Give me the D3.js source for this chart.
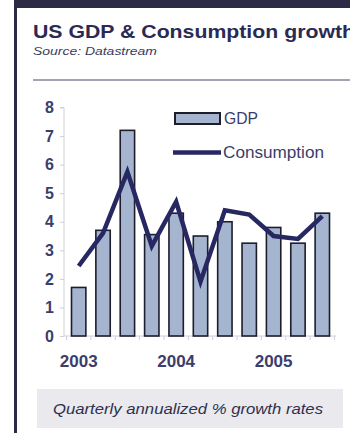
<!DOCTYPE html>
<html><head><meta charset="utf-8">
<script src="https://cdn.jsdelivr.net/npm/d3@7/dist/d3.min.js"></script>
<style>
html,body{margin:0;padding:0;background:#fff;}
svg{display:block;font-family:"Liberation Sans",Arial,sans-serif;}
</style></head>
<body>
<svg id="chart" width="350" height="433"></svg>
<script>
const quarters = ["2003Q1","2003Q2","2003Q3","2003Q4","2004Q1","2004Q2","2004Q3","2004Q4","2005Q1","2005Q2","2005Q3"];
const gdp = [1.7, 3.7, 7.2, 3.55, 4.3, 3.5, 4.0, 3.25, 3.8, 3.25, 4.3];
const consumption = [2.45, 3.6, 5.75, 3.15, 4.7, 1.9, 4.4, 4.25, 3.5, 3.4, 4.2];
const yearLabels = {"2003Q1":"2003","2004Q1":"2004","2005Q1":"2005"};
const yTicks = [0,1,2,3,4,5,6,7,8];
const title = "US GDP & Consumption growth";
const source = "Source: Datastream";
const footer = "Quarterly annualized % growth rates";
const seriesNames = ["GDP","Consumption"];

const svg = d3.select("#chart");
const navy = "#2b2a52", txt = "#3b3d6c", barFill = "#a5b5cf", barStroke = "#1d1d2c", lineCol = "#272762", axisCol = "#cfd0d8";

// frame
svg.append("rect").attr("x",14).attr("y",0).attr("width",336).attr("height",8).attr("fill","#2c2a44");
svg.append("rect").attr("x",14).attr("y",0).attr("width",3).attr("height",433).attr("fill","#2c2a44");

// title
svg.append("text").attr("x",33).attr("y",38).attr("fill",navy).attr("font-size",18).attr("font-weight","bold")
  .attr("textLength",322).attr("lengthAdjust","spacingAndGlyphs").text(title);
svg.append("text").attr("x",33).attr("y",55).attr("fill","#3a3c60").attr("font-size",11).attr("font-style","italic")
  .attr("textLength",124).attr("lengthAdjust","spacingAndGlyphs").text(source);
svg.append("rect").attr("x",33).attr("y",79).attr("width",317).attr("height",2).attr("fill","#a2a3b4");

// scales
const x = d3.scaleBand().domain(quarters).range([66.5,334.5]).paddingInner(0.41).paddingOuter(0.205);
const y = d3.scaleLinear().domain([0,8]).range([336,107.5]);

// y axis
const yAxis = svg.append("g").attr("transform","translate(64,0)")
  .call(d3.axisLeft(y).tickValues(yTicks).tickSize(4).tickPadding(6).tickFormat(d3.format("d")));
yAxis.select(".domain").attr("stroke",axisCol).attr("d","M-4,"+y(8)+"H0V"+y(0));
yAxis.selectAll(".tick line").attr("stroke",axisCol);
yAxis.selectAll(".tick text").attr("fill",txt).attr("font-size",16).attr("font-weight","bold")
  .attr("font-family","Liberation Sans, Arial, sans-serif").attr("x",-10);

// x axis baseline & ticks at band boundaries
const xAxisG = svg.append("g").attr("transform","translate(0,"+y(0)+")");
xAxisG.append("line").attr("x1",64).attr("x2",336).attr("stroke",axisCol).attr("stroke-width",1);
const step = x.step();
const bounds = quarters.map(q => x(q) - x.paddingInner()*step/2).concat([x(quarters[quarters.length-1]) + x.bandwidth() + x.paddingInner()*step/2]);
xAxisG.selectAll("line.tk").data(bounds).join("line").attr("class","tk")
  .attr("x1",d=>d).attr("x2",d=>d).attr("y1",0).attr("y2",4).attr("stroke",axisCol);
xAxisG.selectAll("text.yr").data(quarters.filter(q=>yearLabels[q])).join("text").attr("class","yr")
  .attr("x",q=>x(q)+x.bandwidth()/2).attr("y",31).attr("text-anchor","middle")
  .attr("fill",txt).attr("font-size",17).attr("font-weight","bold").text(q=>yearLabels[q]);

// bars
svg.append("g").selectAll("rect").data(quarters).join("rect")
  .attr("x",q=>x(q)).attr("width",x.bandwidth())
  .attr("y",(q,i)=>y(gdp[i])).attr("height",(q,i)=>y(0)-y(gdp[i]))
  .attr("fill",barFill).attr("stroke",barStroke).attr("stroke-width",1.6);

// line
const line = d3.line().x((d,i)=>x(quarters[i])+x.bandwidth()/2).y(d=>y(d));
svg.append("path").datum(consumption).attr("d",line).attr("fill","none")
  .attr("stroke",lineCol).attr("stroke-width",4.5).attr("stroke-linejoin","miter");

// legend
const lg = svg.append("g");
lg.append("rect").attr("x",175).attr("y",113).attr("width",45).attr("height",11)
  .attr("fill",barFill).attr("stroke",barStroke).attr("stroke-width",2);
lg.append("text").attr("x",224).attr("y",124).attr("fill",txt).attr("font-size",16)
  .attr("textLength",34).attr("lengthAdjust","spacingAndGlyphs").text(seriesNames[0]);
lg.append("line").attr("x1",173).attr("x2",221).attr("y1",152.5).attr("y2",152.5).attr("stroke",lineCol).attr("stroke-width",4.5);
lg.append("text").attr("x",223).attr("y",158).attr("fill",txt).attr("font-size",16)
  .attr("textLength",101).attr("lengthAdjust","spacingAndGlyphs").text(seriesNames[1]);

// footer
svg.append("rect").attr("x",37).attr("y",389).attr("width",306).attr("height",39).attr("fill","#e9e9ee");
svg.append("text").attr("x",53).attr("y",414).attr("fill","#2f304e").attr("font-size",15).attr("font-style","italic")
  .attr("textLength",270).attr("lengthAdjust","spacingAndGlyphs").text(footer);
</script>
</body></html>
